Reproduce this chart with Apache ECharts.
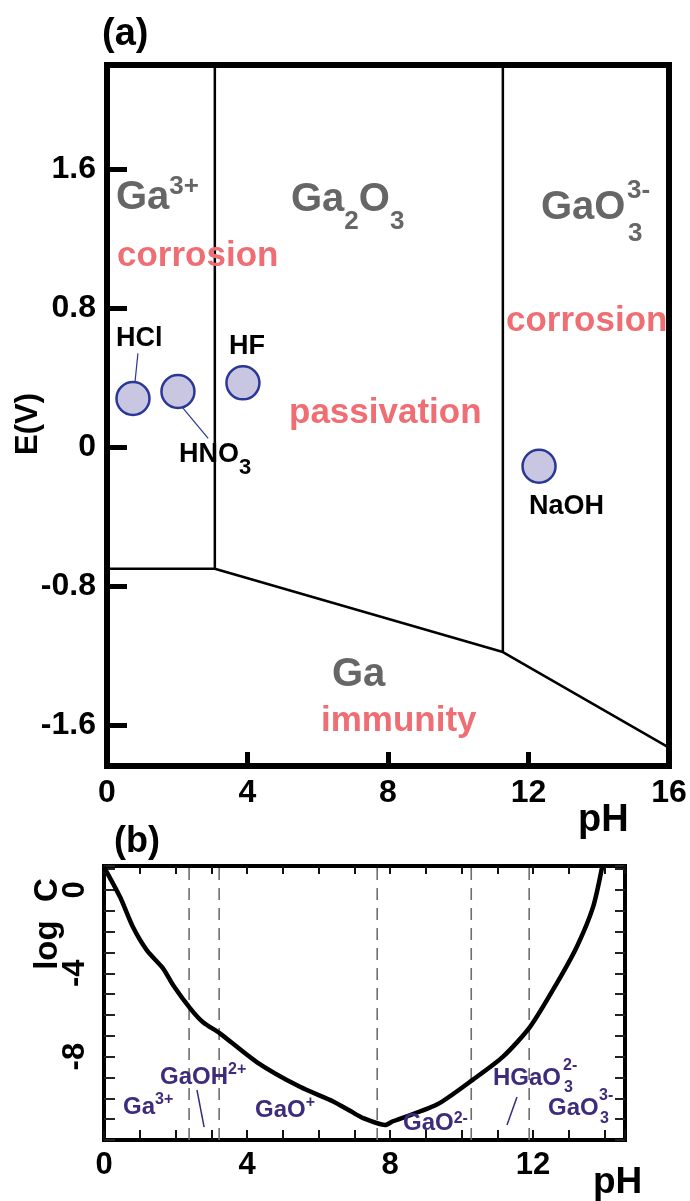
<!DOCTYPE html>
<html>
<head>
<meta charset="utf-8">
<script src="https://cdn.jsdelivr.net/npm/echarts@6/dist/echarts.min.js"></script>
<style>
  html, body { margin: 0; padding: 0; background: #fff; }
  #chart { width: 690px; height: 1201px; }
</style>
</head>
<body>
<div id="chart"></div>
<script>
// ---------- (a) Potential–pH (Pourbaix) diagram of gallium ----------
const phTicksA = [0, 4, 8, 12, 16];
const eTicksA = [-1.6, -0.8, 0, 0.8, 1.6];
const lowerBoundary = [[0, -0.70], [3.07, -0.70], [11.27, -1.18], [16, -1.73]];
const ga3Boundary = [[3.07, -0.70], [3.07, 2.2]];
const gaO3Boundary = [[11.27, -1.18], [11.27, 2.2]];
const solutionNames = ['HCl', 'HNO3', 'HF', 'NaOH'];
const solutionPH = [0.74, 2.02, 3.87, 12.3];
const solutionE = [0.28, 0.32, 0.37, -0.11];
const hclLeader = [[0.80, 0.38], [0.88, 0.54]];
const hno3Leader = [[2.14, 0.23], [2.88, 0.05]];

// ---------- (b) Solubility of gallium species vs pH ----------
const phTicksB = [0, 4, 8, 12];
const logCTicksB = [-8, -4, 0];
const curvePH = [0, 0.45, 0.81, 1.2, 1.65, 1.93, 2.41, 2.77, 3.24, 4.28, 5.48, 6.41, 6.88,
                 7.25, 7.86, 8.08, 9.31, 10.32, 11.16, 11.92, 12.67, 13.23, 13.68, 13.93];
const curveLogC = [1.1, -0.34, -1.78, -2.9, -3.76, -4.56, -5.68, -6.35, -6.88, -8.27, -9.45, -10.15, -10.6,
                   -10.95, -11.28, -11.1, -10.3, -9.1, -8.0, -6.56, -4.46, -2.7, -0.8, 1.1];
const speciesBounds = [2.38, 3.22, 7.64, 10.27, 11.89];
const gaohLeader = [[2.60, -9.6], [2.80, -11.38]];
const hgaoLeader = [[11.55, -9.94], [11.27, -11.28]];

const FONT = '"Liberation Sans", Arial, Helvetica, sans-serif';
const GRAY = '#666666';
const RED = '#ef6e74';
const PURPLE = '#3d2b7c';
const CIRCLE_FILL = '#c8c6e1';
const CIRCLE_EDGE = '#2a3796';

const E_MIN = -1.836, E_MAX = 2.2;
const PHB_MAX = 14.57, LOGC_MIN = -12, LOGC_MAX = 1.15;

function font(size, color, extra) {
  return Object.assign({ fontSize: size, fontWeight: 'bold', fontFamily: FONT, fill: color }, extra || {});
}
function text(x, y, str, size, color, opts) {
  opts = opts || {};
  return {
    type: 'text', x: x, y: y, z: 100,
    rotation: opts.rotation || 0,
    style: Object.assign(font(size, color), {
      text: str,
      align: opts.align || 'left',
      verticalAlign: 'middle',
      rich: opts.rich
    })
  };
}
function sup(size, color, lift) {
  return font(size, color, { padding: [0, 0, lift * 2, 0] });
}
function sub(size, color, drop) {
  return font(size, color, { padding: [drop * 2, 0, 0, 0] });
}
function plainLine(data, xi, yi, color, width, type) {
  return {
    type: 'line', xAxisIndex: xi, yAxisIndex: yi, data: data,
    symbol: 'none', silent: true, clip: true,
    lineStyle: { color: color, width: width, type: type || 'solid' },
    z: 3
  };
}

const axisLabelFont = { fontSize: 32, fontWeight: 'bold', fontFamily: FONT, color: '#000' };
const axisLabelFontB = { fontSize: 31, fontWeight: 'bold', fontFamily: FONT, color: '#000' };
const noLine = { show: false, onZero: false };

const option = {
  animation: false,
  backgroundColor: '#fff',
  grid: [
    { left: 107, top: 65, width: 562, height: 701, show: true, borderColor: '#000', borderWidth: 6, backgroundColor: 'transparent' },
    { left: 104, top: 866, width: 521, height: 274, show: true, borderColor: '#000', borderWidth: 4, backgroundColor: 'transparent' }
  ],
  xAxis: [
    {
      gridIndex: 0, type: 'value', position: 'bottom', min: 0, max: 16, interval: 4,
      axisLine: noLine, splitLine: { show: false },
      axisTick: { inside: true, length: 14, lineStyle: { width: 5, color: '#000' }, customValues: phTicksA },
      axisLabel: Object.assign({ margin: 11, customValues: phTicksA }, axisLabelFont)
    },
    {
      gridIndex: 1, type: 'value', position: 'bottom', min: 0, max: PHB_MAX, interval: 1,
      axisLine: noLine, splitLine: { show: false },
      axisTick: { inside: true, length: 10, lineStyle: { width: 2, color: '#111' } },
      axisLabel: Object.assign({ margin: 10, customValues: phTicksB }, axisLabelFontB)
    },
    {
      gridIndex: 1, type: 'value', position: 'top', min: 0, max: PHB_MAX, interval: 1,
      axisLine: noLine, splitLine: { show: false },
      axisTick: { inside: true, length: 8, lineStyle: { width: 2, color: '#111' } },
      axisLabel: { show: false }
    }
  ],
  yAxis: [
    {
      gridIndex: 0, type: 'value', position: 'left', min: E_MIN, max: E_MAX,
      axisLine: noLine, splitLine: { show: false },
      axisTick: { inside: true, length: 20, lineStyle: { width: 5, color: '#000' }, customValues: eTicksA },
      axisLabel: Object.assign({ margin: 11, customValues: eTicksA }, axisLabelFont)
    },
    {
      gridIndex: 1, type: 'value', position: 'left', min: LOGC_MIN, max: LOGC_MAX, interval: 1,
      axisLine: noLine, splitLine: { show: false },
      axisTick: { inside: true, length: 11, lineStyle: { width: 2, color: '#222' } },
      axisLabel: Object.assign({ margin: 13, rotate: 90, customValues: logCTicksB }, axisLabelFontB)
    },
    {
      gridIndex: 1, type: 'value', position: 'right', min: LOGC_MIN, max: LOGC_MAX, interval: 1,
      axisLine: noLine, splitLine: { show: false },
      axisTick: { inside: true, length: 10, lineStyle: { width: 2, color: '#222' } },
      axisLabel: { show: false }
    }
  ],
  series: [
    // (a) stability-field boundaries
    plainLine(lowerBoundary, 0, 0, '#000', 2.5),
    plainLine(ga3Boundary, 0, 0, '#000', 2.5),
    plainLine(gaO3Boundary, 0, 0, '#000', 2.5),
    // (a) leader lines from labels to solution markers
    plainLine(hclLeader, 0, 0, CIRCLE_EDGE, 1.2),
    plainLine(hno3Leader, 0, 0, CIRCLE_EDGE, 1.2),
    // (a) etching solutions
    {
      type: 'scatter', xAxisIndex: 0, yAxisIndex: 0, z: 5,
      symbol: 'circle', symbolSize: 33,
      itemStyle: { color: CIRCLE_FILL, borderColor: CIRCLE_EDGE, borderWidth: 2.5, opacity: 1 },
      data: solutionNames.map((n, i) => ({ name: n, value: [solutionPH[i], solutionE[i]] }))
    },
    // (b) species predominance boundaries
    ...speciesBounds.map(b => plainLine([[b, LOGC_MIN], [b, LOGC_MAX]], 1, 1, '#6e6e6e', 1.6, [12, 8])),
    // (b) leader lines
    plainLine(gaohLeader, 1, 1, PURPLE, 1.5),
    plainLine(hgaoLeader, 1, 1, PURPLE, 1.5),
    // (b) total solubility curve
    {
      type: 'line', xAxisIndex: 1, yAxisIndex: 1, z: 4,
      data: curvePH.map((p, i) => [p, curveLogC[i]]),
      symbol: 'none', smooth: 0.25, clip: true,
      lineStyle: { color: '#000', width: 4.5 }
    }
  ],
  graphic: [
    // ---- panel (a) texts ----
    text(102, 35, '(a)', 38, '#000'),
    text(116, 198, '{m|Ga}{s|3+}', 40, GRAY, { rich: { m: font(40, GRAY), s: sup(26, GRAY, 11) } }),
    text(291, 200, '{m|Ga}{d|2}{m|O}{d|3}', 40, GRAY, { rich: { m: font(40, GRAY), d: sub(26, GRAY, 22) } }),
    text(541, 208, 'GaO', 40, GRAY),
    text(627, 191, '3-', 26, GRAY),
    text(628, 234, '3', 26, GRAY),
    text(117, 256, 'corrosion', 35, RED),
    text(506, 321, 'corrosion', 35, RED),
    text(289, 413, 'passivation', 35, RED),
    text(332, 675, 'Ga', 40, GRAY),
    text(321, 721, 'immunity', 35, RED),
    text(116, 339, 'HCl', 27, '#000'),
    text(229, 347, 'HF', 27, '#000'),
    text(179, 455, '{m|HNO}{d|3}', 27, '#000', { rich: { m: font(27, '#000'), d: sub(22, '#000', 13) } }),
    text(529, 507, 'NaOH', 27, '#000'),
    text(578, 821, 'pH', 38, '#000'),
    text(28, 424, 'E(V)', 31, '#000', { align: 'center', rotation: Math.PI / 2 }),
    // ---- panel (b) texts ----
    text(114, 842, '(b)', 36, '#000'),
    text(48, 924, 'log  C', 33, '#000', { align: 'center', rotation: Math.PI / 2 }),
    text(123, 1107, '{m|Ga}{s|3+}', 24, PURPLE, { rich: { m: font(24, PURPLE), s: sup(16, PURPLE, 7) } }),
    text(160, 1077, '{m|GaOH}{s|2+}', 24, PURPLE, { rich: { m: font(24, PURPLE), s: sup(16, PURPLE, 7) } }),
    text(255, 1110, '{m|GaO}{s|+}', 24, PURPLE, { rich: { m: font(24, PURPLE), s: sup(16, PURPLE, 7) } }),
    text(403, 1123, '{m|GaO}{s|2-}', 24, PURPLE, { rich: { m: font(24, PURPLE), s: sup(16, PURPLE, 4) } }),
    text(493, 1078, 'HGaO', 24, PURPLE),
    text(563, 1066, '2-', 16, PURPLE),
    text(564, 1088, '3', 16, PURPLE),
    text(548, 1108, 'GaO', 24, PURPLE),
    text(599, 1096, '3-', 16, PURPLE),
    text(600, 1119, '3', 16, PURPLE),
    text(593, 1183, 'pH', 37, '#000')
  ]
};

const chart = echarts.init(document.getElementById('chart'), null, { renderer: 'canvas' });
chart.setOption(option);
</script>
</body>
</html>
